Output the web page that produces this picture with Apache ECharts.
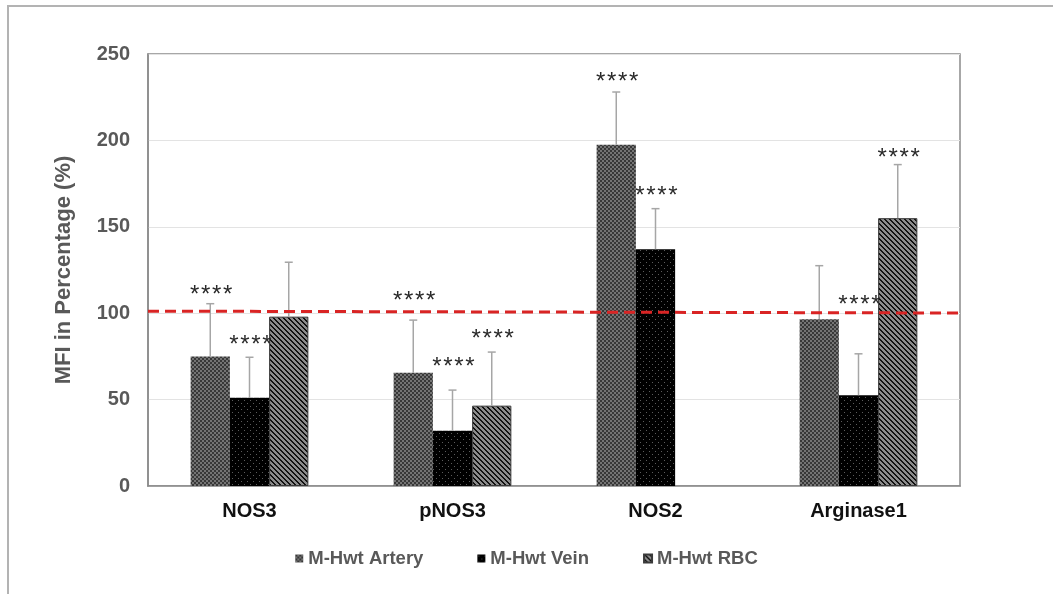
<!DOCTYPE html>
<html>
<head>
<meta charset="utf-8">
<script src="https://cdn.jsdelivr.net/npm/echarts@6/dist/echarts.min.js"></script>
<style>
html,body{margin:0;padding:0;background:#fff;}
#chart{width:1053px;height:594px;}
</style>
</head>
<body>
<div id="chart"></div>
<script>
// ---- data ----
const categories = ['NOS3', 'pNOS3', 'NOS2', 'Arginase1'];
const seriesNames = ['M-Hwt Artery', 'M-Hwt Vein', 'M-Hwt RBC'];
const arteryMean = [75, 65.5, 197.5, 96.5];
const arteryErrTop = [105.5, 96, 228, 127.5];
const veinMean = [51, 32, 137, 52.5];
const veinErrTop = [74.5, 55.5, 160.5, 76.5];
const rbcMean = [98, 46.5, null, 155];
const rbcErrTop = [129.5, 77.5, null, 186];
// level (in % units) where the "****" marks sit
const arteryStars = [114, 110.5, 237, null];
const veinStars = [85, 72, 171, 108];
const rbcStars = [null, 88.5, null, 193];
const refLine = [101.2, 100.1]; // dashed reference line, left end and right end
const yTicks = { min: 0, max: 250, interval: 50 };
const starCount = 4;

// ---- patterns ----
function tile(size, draw) {
  const c = document.createElement('canvas');
  c.width = size; c.height = size;
  const ctx = c.getContext('2d');
  draw(ctx, size);
  return { image: c, repeat: 'repeat' };
}
const arteryPattern = tile(4, (ctx) => {
  ctx.fillStyle = '#747474'; ctx.fillRect(0, 0, 4, 4);
  ctx.fillStyle = '#383838'; ctx.fillRect(0, 0, 2, 2); ctx.fillRect(2, 2, 2, 2);
});
const veinPattern = tile(6, (ctx) => {
  ctx.fillStyle = '#000'; ctx.fillRect(0, 0, 6, 6);
  ctx.fillStyle = '#5c5c5c'; ctx.fillRect(1, 1, 1, 1); ctx.fillRect(4, 4, 1, 1);
});
const rbcPattern = tile(5, (ctx, n) => {
  ctx.fillStyle = '#8c8c8c'; ctx.fillRect(0, 0, n, n);
  ctx.fillStyle = '#111';
  for (let y = 0; y < n; y++) for (let x = 0; x < n; x++) {
    if (((x - y) % n + n) % n < 2) ctx.fillRect(x, y, 1, 1);
  }
});
const patterns = [arteryPattern, veinPattern, rbcPattern];

const means = [arteryMean, veinMean, rbcMean];
const errs = [arteryErrTop, veinErrTop, rbcErrTop];
const stars = [arteryStars, veinStars, rbcStars];

const CAT_GAP = 0.42;
const FONT = '"Liberation Sans", Arial, sans-serif';

function errRenderer(k) {
  return function (params, api) {
    const i = api.value(0), mean = api.value(1), top = api.value(2), star = api.value(3);
    const catW = api.size([1, 0])[0];
    const bw = catW * (1 - CAT_GAP) / 3;
    const cx = api.coord([i, 0])[0] + (k - 1) * bw;
    const children = [];
    if (!isNaN(mean) && !isNaN(top)) {
      const y0 = api.coord([i, mean])[1];
      const y1 = api.coord([i, top])[1];
      children.push({ type: 'line', shape: { x1: cx, y1: y0, x2: cx, y2: y1 },
        style: { stroke: '#a6a6a6', lineWidth: 1.5 } });
      children.push({ type: 'line', shape: { x1: cx - 4, y1: y1, x2: cx + 4, y2: y1 },
        style: { stroke: '#a6a6a6', lineWidth: 1.5 } });
    }
    if (!isNaN(star)) {
      const ys = api.coord([i, star])[1];
      for (let j = 0; j < starCount; j++) {
        children.push({ type: 'text', x: cx + 1 + (j - (starCount - 1) / 2) * 11, y: ys + 6,
          style: { text: '*', fill: '#2a2a2a', font: '24px ' + FONT,
            align: 'center', verticalAlign: 'middle' } });
      }
    }
    return { type: 'group', children };
  };
}

const barSeries = seriesNames.map((name, k) => ({
  name,
  type: 'bar',
  data: means[k],
  barGap: '0%',
  barCategoryGap: (CAT_GAP * 100) + '%',
  itemStyle: { color: patterns[k], borderColor: k === 2 ? '#3a3a3a' : 'rgba(0,0,0,0)', borderWidth: k === 2 ? 1 : 0 },
  z: 2
}));

const errSeries = seriesNames.map((name, k) => ({
  type: 'custom',
  renderItem: errRenderer(k),
  data: categories.map((c, i) => [i, means[k][i], errs[k][i], stars[k][i]]),
  encode: { x: 0, y: [1, 2] },
  z: 5,
  silent: true
}));

const chart = echarts.init(document.getElementById('chart'), null, { renderer: 'canvas' });
chart.setOption({
  animation: false,
  backgroundColor: '#fff',
  graphic: [{
    type: 'rect', shape: { x: 8, y: 6, width: 1200, height: 800 },
    style: { fill: 'none', stroke: '#b3b3b3', lineWidth: 2 }, silent: true, z: -10
  }],
  grid: { left: 148, right: 93, top: 54, bottom: 108, show: true, borderColor: '#8a8a8a', borderWidth: 1.5 },
  legend: {
    data: seriesNames,
    bottom: 21,
    left: 'center',
    itemWidth: 8, itemHeight: 8, itemGap: 54, itemTextGap: 4,
    textStyle: { color: '#595959', fontWeight: 'bold', fontSize: 18.5, fontFamily: FONT },
    icon: 'rect'
  },
  xAxis: [{
    type: 'category',
    data: categories,
    axisLine: { show: true, lineStyle: { color: '#8a8a8a', width: 1.5 } },
    axisTick: { show: false },
    axisLabel: { color: '#111', fontWeight: 'bold', fontSize: 20, fontFamily: FONT, margin: 15 }
  }, {
    type: 'value', min: 0, max: 1, show: false
  }],
  yAxis: {
    type: 'value',
    min: yTicks.min, max: yTicks.max, interval: yTicks.interval,
    name: 'MFI in Percentage (%)',
    nameLocation: 'middle',
    nameGap: 73,
    nameTextStyle: { color: '#595959', fontWeight: 'bold', fontSize: 22, fontFamily: FONT },
    axisLine: { show: true, lineStyle: { color: '#8a8a8a', width: 1.5 } },
    axisTick: { show: false },
    splitLine: { lineStyle: { color: '#e3e3e3', width: 1 } },
    axisLabel: { color: '#595959', fontWeight: 'bold', fontSize: 20, fontFamily: FONT, margin: 18 }
  },
  series: barSeries.concat(errSeries).concat([{
    type: 'line',
    xAxisIndex: 1,
    data: [[0, refLine[0]], [1, refLine[1]]],
    symbol: 'none',
    silent: true,
    lineStyle: { color: '#d92424', width: 3, type: [11, 6] },
    z: 6
  }])
});
</script>
</body>
</html>
